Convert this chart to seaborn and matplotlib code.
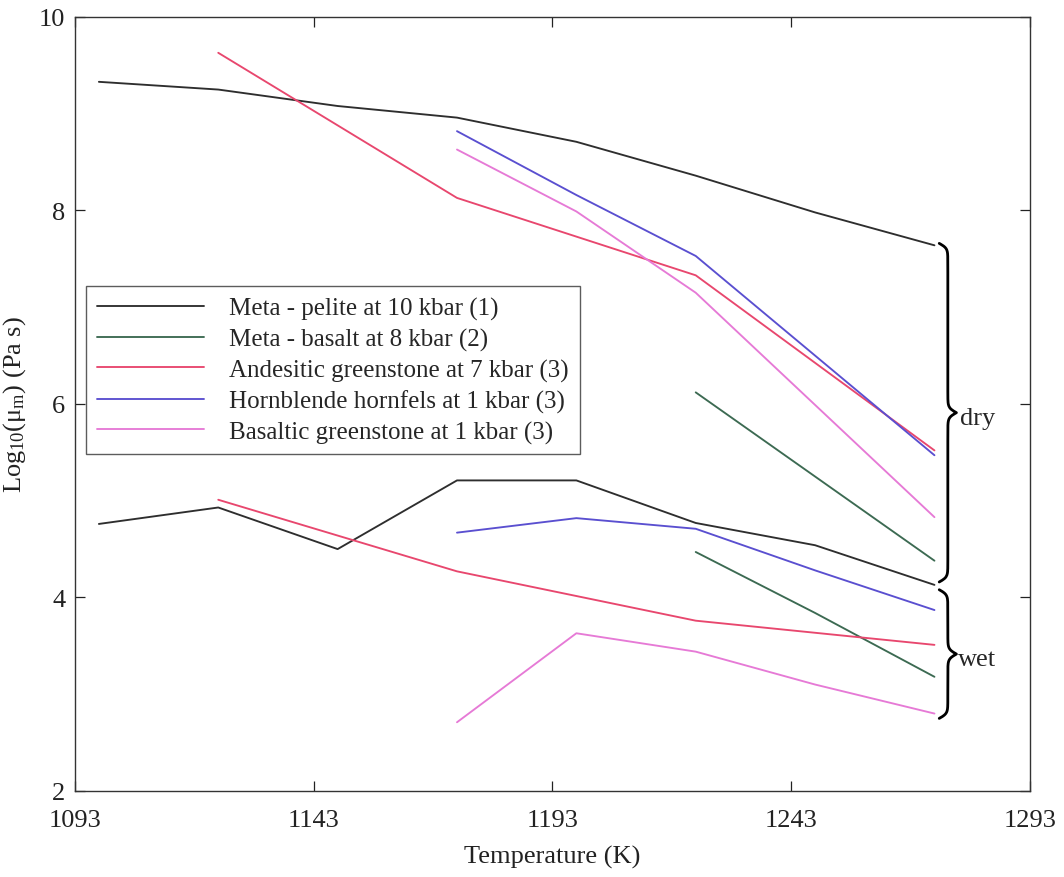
import numpy as np
import pandas as pd
import matplotlib
matplotlib.use("Agg")
import matplotlib.pyplot as plt
from matplotlib.lines import Line2D
import seaborn as sns

# Melt viscosity of crustal rocks, log10(Pa s), dry vs. wet
materials = [
    "Meta - pelite at 10 kbar (1)",
    "Meta - basalt at 8 kbar (2)",
    "Andesitic greenstone at 7 kbar (3)",
    "Hornblende hornfels at 1 kbar (3)",
    "Basaltic greenstone at 1 kbar (3)",
]
colors = ["#2e2e2e", "#3c6a52", "#e8476e", "#5a4fd0", "#e67ad6"]

pelite_T = [1098, 1123, 1148, 1173, 1198, 1223, 1248, 1273]
pelite_dry = [9.33, 9.25, 9.08, 8.96, 8.71, 8.36, 7.98, 7.64]
pelite_wet = [4.76, 4.93, 4.50, 5.21, 5.21, 4.77, 4.54, 4.13]

basalt_dry_T = [1223, 1273]
basalt_dry = [6.12, 4.38]
basalt_wet_T = [1223, 1248, 1273]
basalt_wet = [4.47, 3.84, 3.18]

andesite_T = [1123, 1173, 1223, 1273]
andesite_dry = [9.63, 8.13, 7.33, 5.52]
andesite_wet = [5.01, 4.27, 3.76, 3.51]

hornfels_dry_T = [1173, 1198, 1223, 1273]
hornfels_dry = [8.82, 8.16, 7.53, 5.47]
hornfels_wet_T = [1173, 1198, 1223, 1248, 1273]
hornfels_wet = [4.67, 4.82, 4.71, 4.28, 3.87]

greenstone_dry_T = [1173, 1198, 1223, 1273]
greenstone_dry = [8.63, 7.99, 7.15, 4.83]
greenstone_wet_T = [1173, 1198, 1223, 1248, 1273]
greenstone_wet = [2.71, 3.63, 3.44, 3.10, 2.80]

x_ticks = [1093, 1143, 1193, 1243, 1293]
y_ticks = [2, 4, 6, 8, 10]

series = [
    (materials[0], "dry", pelite_T, pelite_dry),
    (materials[0], "wet", pelite_T, pelite_wet),
    (materials[1], "dry", basalt_dry_T, basalt_dry),
    (materials[1], "wet", basalt_wet_T, basalt_wet),
    (materials[2], "dry", andesite_T, andesite_dry),
    (materials[2], "wet", andesite_T, andesite_wet),
    (materials[3], "dry", hornfels_dry_T, hornfels_dry),
    (materials[3], "wet", hornfels_wet_T, hornfels_wet),
    (materials[4], "dry", greenstone_dry_T, greenstone_dry),
    (materials[4], "wet", greenstone_wet_T, greenstone_wet),
]
rows = []
for mat, cond, ts, vs in series:
    for t, v in zip(ts, vs):
        rows.append({"material": mat, "condition": cond, "T": t, "logmu": v})
df = pd.DataFrame(rows)

sns.set_theme(style="ticks", rc={"xtick.direction": "in", "ytick.direction": "in"})
plt.rcParams["font.family"] = ["Liberation Serif", "DejaVu Serif"]
plt.rcParams["mathtext.fontset"] = "custom"
plt.rcParams["mathtext.rm"] = "Liberation Serif"
plt.rcParams["mathtext.it"] = "Liberation Serif:italic"

fig = plt.figure(figsize=(10.64, 8.78), dpi=100)
ax = fig.add_axes([0.0705, 0.098, 0.8975, 0.8815])

palette = dict(zip(materials, colors))
sns.lineplot(data=df, x="T", y="logmu", hue="material", units="condition",
             estimator=None, palette=palette, hue_order=materials,
             linewidth=1.35, legend=False, ax=ax, sort=False)

ax.set_xlim(1093, 1293)
ax.set_ylim(2, 10)
ax.set_xticks(x_ticks)
ax.set_yticks(y_ticks)
ax.tick_params(axis="both", which="both", direction="in", length=7, width=0.9,
               top=True, right=True, labelsize=19, colors="#222222")
ax.tick_params(axis="x", pad=13)
ax.tick_params(axis="y", pad=7)
for s in ax.spines.values():
    s.set_color("#333333")
    s.set_linewidth(1.0)

ax.set_xlabel("Temperature (K)", fontsize=19, labelpad=10, color="#222222")
ax.set_ylabel("Log$_{10}$(μ$_{\\rm m}$) (Pa s)", fontsize=19, labelpad=8, color="#222222")

# Legend with long sample lines
handles = [Line2D([0], [0], color=c, lw=1.35) for c in colors]
leg = ax.legend(handles, materials, loc="upper left", bbox_to_anchor=(0.012, 0.652),
                borderaxespad=0, fontsize=18, handlelength=4.3, handletextpad=1.0,
                labelspacing=0.31, borderpad=0.42, frameon=True, fancybox=False)
leg.get_frame().set_edgecolor("#333333")
leg.get_frame().set_linewidth(1.0)


def curly_brace(ax, x, y_top, y_bot, width, beta=40.0, lw=2.0):
    # right-pointing brace spanning y_bot..y_top at x
    n = 401
    y = np.linspace(y_bot, y_top, n)
    half = y[: n // 2 + 1]
    shape = (1.0 / (1.0 + np.exp(-beta * (half - half[0])))
             + 1.0 / (1.0 + np.exp(-beta * (half - half[-1]))))
    shape = np.concatenate((shape, shape[-2::-1]))
    xs = x + (shape - 0.5) * width
    ax.plot(xs, y, color="black", lw=lw, solid_capstyle="round", clip_on=False)
    return x + width


dry_top = max(pelite_dry[-1], andesite_dry[-1], hornfels_dry[-1]) + 0.02
dry_bot = min(basalt_dry[-1], greenstone_dry[-1]) - 0.22
wet_top = pelite_wet[-1] - 0.05
wet_bot = greenstone_wet[-1] - 0.05

tip = curly_brace(ax, 1274.0, dry_top, dry_bot, 3.6)
ax.text(tip + 0.8, (dry_top + dry_bot) / 2 - 0.05, "dry", fontsize=19, va="center", ha="left")
tip = curly_brace(ax, 1274.0, wet_top, wet_bot, 3.6)
ax.text(tip + 0.3, (wet_top + wet_bot) / 2 - 0.05, "wet", fontsize=19, va="center", ha="left")

fig.savefig("out.png", dpi=100)
